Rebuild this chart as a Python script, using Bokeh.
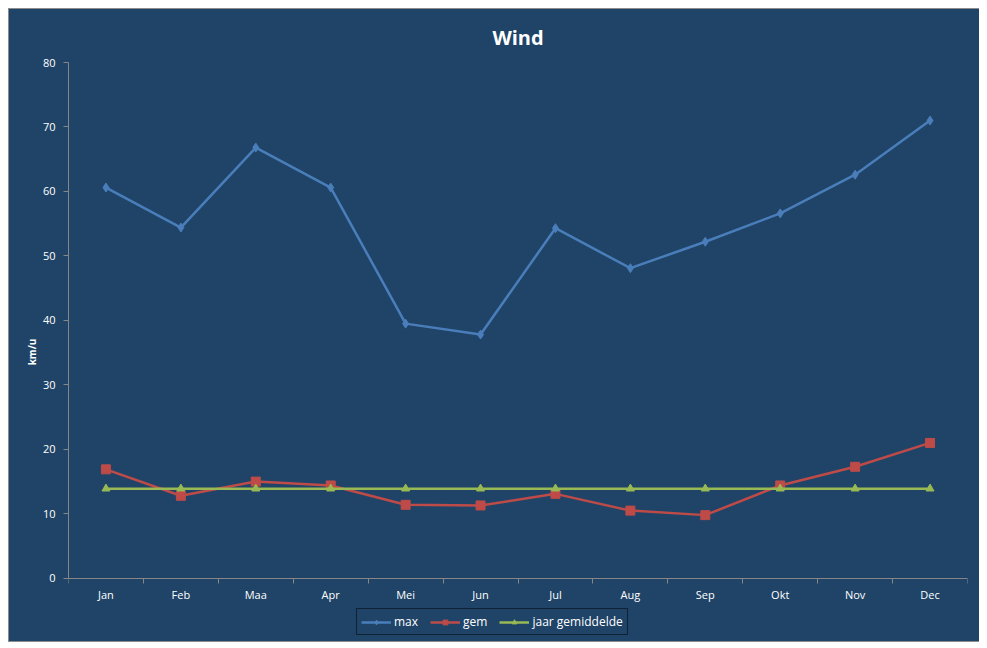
from bokeh.plotting import figure
from bokeh.models import FixedTicker, Legend, LegendItem, ColumnDataSource, Range1d
from bokeh.embed import file_html
from bokeh.resources import INLINE

months = ["Jan", "Feb", "Maa", "Apr", "Mei", "Jun", "Jul", "Aug", "Sep", "Okt", "Nov", "Dec"]
max_wind = [60.6, 54.4, 66.8, 60.6, 39.5, 37.8, 54.3, 48.1, 52.2, 56.6, 62.6, 71.0]
gem_wind = [16.9, 12.8, 15.0, 14.4, 11.4, 11.3, 13.1, 10.5, 9.8, 14.4, 17.3, 21.0]
jaar_gem = [13.9] * 12
y_ticks = [0, 10, 20, 30, 40, 50, 60, 70, 80]

xs = [i + 0.5 for i in range(len(months))]
src = ColumnDataSource(dict(x=xs, mx=max_wind, gem=gem_wind, jaar=jaar_gem))

BG = "#1F4467"
FONT = "Open Sans"

p = figure(width=973, height=634, output_backend="svg", toolbar_location=None,
           x_range=Range1d(0, len(months)), y_range=Range1d(-9.8, 80),
           background_fill_color=BG, border_fill_color=BG, outline_line_color=None,
           min_border_left=59, min_border_right=15, min_border_top=53, min_border_bottom=2)
p.grid.visible = False
p.styles = {"border": "1px solid #8C8C8C", "background-color": BG}

p.title.text = "Wind"
p.title.align = "center"
p.title.text_color = "white"
p.title.text_font = FONT
p.title.text_font_size = "20px"
p.title.text_font_style = "bold"
p.title.offset = 0
p.title.standoff = 23

# x axis at y = 0
p.xaxis.fixed_location = 0
p.xaxis.ticker = FixedTicker(ticks=xs, minor_ticks=list(range(len(months) + 1)))
p.xaxis.major_label_overrides = {x: m for x, m in zip(xs, months)}
p.xaxis.major_tick_out = 0
p.xaxis.major_tick_in = 0
p.xaxis.minor_tick_out = 5
p.xaxis.minor_tick_in = 0
p.xaxis.minor_tick_line_color = "#868686"
p.xaxis.axis_line_color = "#868686"
p.xaxis.major_label_text_color = "white"
p.xaxis.major_label_text_font = FONT
p.xaxis.major_label_text_font_size = "11px"
p.xaxis.major_label_standoff = 4

# y axis
p.yaxis.ticker = FixedTicker(ticks=y_ticks, minor_ticks=[])
p.yaxis.bounds = (0, 80)
p.yaxis.major_tick_out = 5
p.yaxis.major_tick_in = 0
p.yaxis.major_tick_line_color = "#868686"
p.yaxis.axis_line_color = "#868686"
p.yaxis.major_label_text_color = "white"
p.yaxis.major_label_text_font = FONT
p.yaxis.major_label_text_font_size = "11px"
p.yaxis.major_label_standoff = 8
p.yaxis.axis_label = "km/u"
p.yaxis.axis_label_text_color = "white"
p.yaxis.axis_label_text_font = FONT
p.yaxis.axis_label_text_font_size = "10px"
p.yaxis.axis_label_text_font_style = "bold"
p.yaxis.axis_label_standoff = 1

c_max, c_gem, c_jaar = "#4A7EBB", "#BE4B48", "#98B954"

l1 = p.line("x", "mx", source=src, line_color=c_max, line_width=2.5)
m1 = p.scatter("x", "mx", source=src, marker="diamond", size=9, fill_color=c_max, line_color=c_max)
l2 = p.line("x", "gem", source=src, line_color=c_gem, line_width=2.5)
m2 = p.scatter("x", "gem", source=src, marker="square", size=9, fill_color=c_gem, line_color=c_gem)
l3 = p.line("x", "jaar", source=src, line_color=c_jaar, line_width=2.5)
m3 = p.scatter("x", "jaar", source=src, marker="triangle", size=8, fill_color=c_jaar, line_color=c_jaar)

legend = Legend(items=[LegendItem(label="max", renderers=[l1, m1]),
                       LegendItem(label="gem", renderers=[l2, m2]),
                       LegendItem(label="jaar gemiddelde", renderers=[l3, m3])],
                orientation="horizontal", location=(288, 6),
                background_fill_alpha=0, border_line_color="black", border_line_width=1,
                label_text_color="white", label_text_font=FONT, label_text_font_size="12px",
                glyph_width=30, glyph_height=12, padding=4, spacing=12, margin=0,
                label_standoff=3, label_height=14)
p.add_layout(legend, "center")

html = file_html(p, INLINE)
html = html.replace("<body>", '<body style="margin:8px">')
open("out.html", "w").write(html)
